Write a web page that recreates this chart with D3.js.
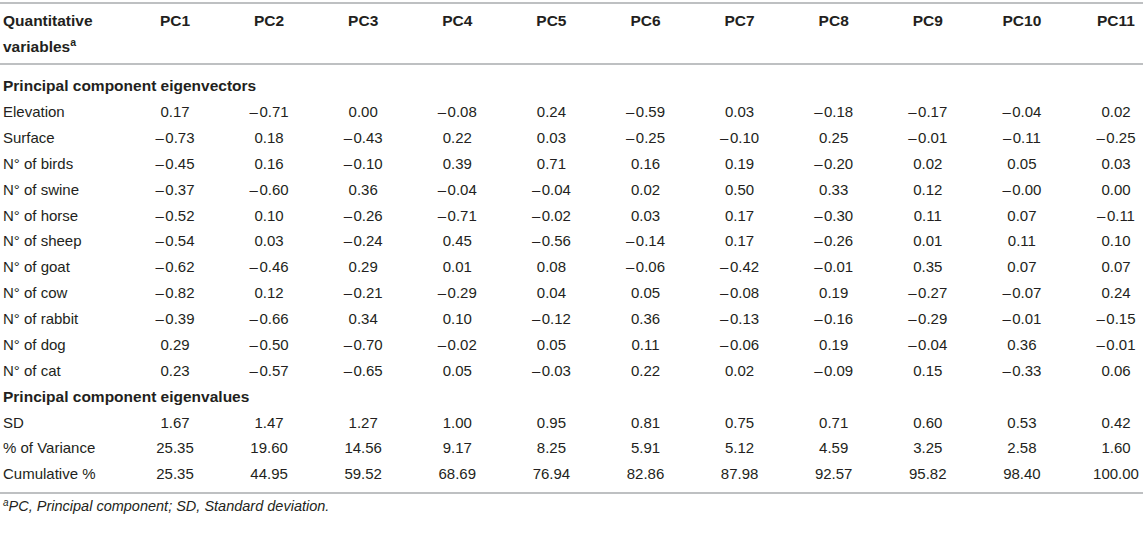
<!DOCTYPE html>
<html>
<head>
<meta charset="utf-8">
<script src="https://cdn.jsdelivr.net/npm/d3@7"></script>
<style>
  html, body { margin: 0; padding: 0; background: #fff; }
  svg { display: block; }
  text { font-family: "Liberation Sans", Arial, Helvetica, sans-serif; fill: #231f20; }
</style>
</head>
<body>
<svg id="chart" width="1143" height="533"></svg>
<script>
// ---- data ----
const components = ["PC1","PC2","PC3","PC4","PC5","PC6","PC7","PC8","PC9","PC10","PC11"];
const vectorLabels = ["Elevation","Surface","N° of birds","N° of swine","N° of horse","N° of sheep","N° of goat","N° of cow","N° of rabbit","N° of dog","N° of cat"];
const vectorValues = [
  ["0.17","–0.71","0.00","–0.08","0.24","–0.59","0.03","–0.18","–0.17","–0.04","0.02"],
  ["–0.73","0.18","–0.43","0.22","0.03","–0.25","–0.10","0.25","–0.01","–0.11","–0.25"],
  ["–0.45","0.16","–0.10","0.39","0.71","0.16","0.19","–0.20","0.02","0.05","0.03"],
  ["–0.37","–0.60","0.36","–0.04","–0.04","0.02","0.50","0.33","0.12","–0.00","0.00"],
  ["–0.52","0.10","–0.26","–0.71","–0.02","0.03","0.17","–0.30","0.11","0.07","–0.11"],
  ["–0.54","0.03","–0.24","0.45","–0.56","–0.14","0.17","–0.26","0.01","0.11","0.10"],
  ["–0.62","–0.46","0.29","0.01","0.08","–0.06","–0.42","–0.01","0.35","0.07","0.07"],
  ["–0.82","0.12","–0.21","–0.29","0.04","0.05","–0.08","0.19","–0.27","–0.07","0.24"],
  ["–0.39","–0.66","0.34","0.10","–0.12","0.36","–0.13","–0.16","–0.29","–0.01","–0.15"],
  ["0.29","–0.50","–0.70","–0.02","0.05","0.11","–0.06","0.19","–0.04","0.36","–0.01"],
  ["0.23","–0.57","–0.65","0.05","–0.03","0.22","0.02","–0.09","0.15","–0.33","0.06"]
];
const valueLabels = ["SD","% of Variance","Cumulative %"];
const valueValues = [
  ["1.67","1.47","1.27","1.00","0.95","0.81","0.75","0.71","0.60","0.53","0.42"],
  ["25.35","19.60","14.56","9.17","8.25","5.91","5.12","4.59","3.25","2.58","1.60"],
  ["25.35","44.95","59.52","68.69","76.94","82.86","87.98","92.57","95.82","98.40","100.00"]
];
const sectionTitles = ["Principal component eigenvectors","Principal component eigenvalues"];
const headerLines = ["Quantitative","variables"];
const footnote = "PC, Principal component; SD, Standard deviation.";

// ---- layout ----
const W = 1143;
const svg = d3.select("#chart");
const x = d3.scalePoint().domain(components).range([175, 1116]);

const rows = [];
rows.push({type:"section", label: sectionTitles[0]});
vectorLabels.forEach((l,i)=>rows.push({type:"data", label:l, values: vectorValues[i]}));
rows.push({type:"section", label: sectionTitles[1]});
valueLabels.forEach((l,i)=>rows.push({type:"data", label:l, values: valueValues[i]}));

const y = d3.scalePoint().domain(d3.range(rows.length)).range([86, 474]);

const lineColor = "#a9abae";
function rule(yy){
  svg.append("line").attr("x1",0).attr("x2",W).attr("y1",yy).attr("y2",yy)
    .attr("stroke",lineColor).attr("stroke-width",1.6);
}
rule(3); rule(64); rule(493);

const boldSize = "15.5px", regSize = "15px";

// header
const hdr = svg.append("g").attr("font-weight","bold").attr("font-size",boldSize);
hdr.append("text").attr("x",3).attr("y",21).attr("dy","0.35em").text(headerLines[0]);
const t2 = hdr.append("text").attr("x",3).attr("y",47).attr("dy","0.35em");
t2.append("tspan").text(headerLines[1]);
t2.append("tspan").attr("font-size","10.5px").attr("dy","-6").text("a");
hdr.selectAll("text.pc").data(components).join("text").attr("class","pc")
  .attr("x",d=>x(d)).attr("y",21).attr("dy","0.35em").attr("text-anchor","middle").text(d=>d);

// body
function valueText(sel, s){
  if (s.startsWith("–")){
    sel.append("tspan").text("–");
    sel.append("tspan").attr("dx",1.5).text(s.slice(1));
  } else sel.text(s);
}
const body = svg.append("g");
rows.forEach((r,i)=>{
  const yy = y(i);
  if (r.type==="section"){
    body.append("text").attr("x",3).attr("y",yy).attr("dy","0.35em")
      .attr("font-weight","bold").attr("font-size",boldSize).text(r.label);
  } else {
    body.append("text").attr("x",3).attr("y",yy).attr("dy","0.35em")
      .attr("font-size",regSize).text(r.label);
    body.selectAll(null).data(r.values).join("text")
      .attr("x",(d,j)=>x(components[j])).attr("y",yy).attr("dy","0.35em")
      .attr("text-anchor","middle").attr("font-size",regSize)
      .each(function(d){ valueText(d3.select(this), d); });
  }
});

// footnote
const fn = svg.append("text").attr("x",3).attr("y",511).attr("dy","0.35em")
  .attr("font-style","italic").attr("font-size","14.5px");
fn.append("tspan").attr("font-size","10px").attr("dy","-5").text("a");
fn.append("tspan").attr("dy","5").text(footnote);
</script>
</body>
</html>
